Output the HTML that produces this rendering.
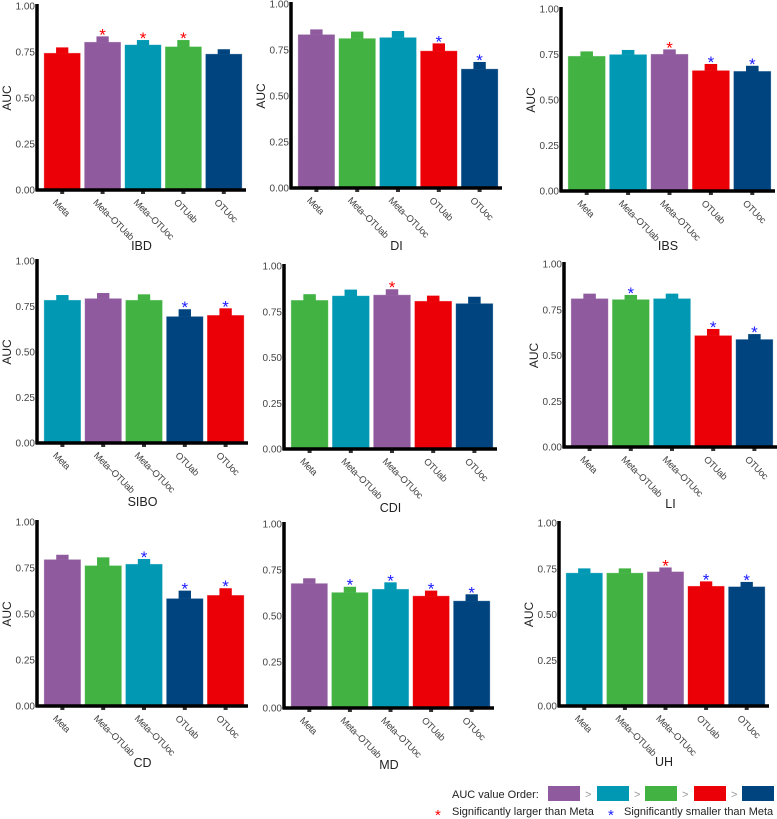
<!DOCTYPE html>
<html><head><meta charset="utf-8"><style>
body{margin:0;background:#fff;}
svg{display:block;font-family:"Liberation Sans",Arial,sans-serif;}
</style></head><body>
<svg id="chart" width="777" height="819" viewBox="0 0 777 819" xmlns="http://www.w3.org/2000/svg"></svg>
<script>
const categories = ["Meta","Meta\u2013OTUab","Meta\u2013OTUoc","OTUab","OTUoc"];
const panelNames = ["IBD","DI","IBS","SIBO","CDI","LI","CD","MD","UH"];
const aucValues = [
 [0.745,0.805,0.79,0.78,0.74],
 [0.835,0.814,0.819,0.746,0.648],
 [0.742,0.751,0.753,0.663,0.659],
 [0.786,0.795,0.786,0.696,0.703],
 [0.814,0.838,0.843,0.809,0.796],
 [0.812,0.807,0.812,0.61,0.589],
 [0.797,0.764,0.772,0.585,0.603],
 [0.678,0.629,0.647,0.61,0.583],
 [0.728,0.728,0.735,0.656,0.653]
];
const upperValues = [
 [0.775,0.835,0.815,0.815,0.765],
 [0.862,0.85,0.853,0.786,0.685],
 [0.767,0.775,0.778,0.698,0.688],
 [0.813,0.824,0.817,0.735,0.74],
 [0.846,0.871,0.873,0.838,0.832],
 [0.838,0.831,0.838,0.645,0.617],
 [0.822,0.808,0.799,0.627,0.64],
 [0.705,0.659,0.683,0.638,0.618],
 [0.752,0.752,0.757,0.681,0.678]
];
const colorRank = [
 ["r","p","t","g","n"],["p","g","t","r","n"],["g","t","p","r","n"],
 ["t","p","g","n","r"],["g","t","p","r","n"],["p","g","t","r","n"],
 ["p","g","t","n","r"],["p","g","t","r","n"],["t","g","p","r","n"]
];
const significance = [
 ["","+","+","+",""],["","","","-","-"],["","","+","-","-"],
 ["","","","-","-"],["","","+","",""],["","-","","-","-"],
 ["","","-","-","-"],["","-","-","-","-"],["","","+","-","-"]
];
const yTicks = [0,0.25,0.5,0.75,1];
const yTickLabels = ["0.00","0.25","0.50","0.75","1.00"];
const COL={p:"#8f5b9e",t:"#0098b3",g:"#42b342",r:"#ec0008",n:"#00447f"};
const layout=[
 [37,246,190,6,250,1],[291,502,188,4,250,1],[561,775,191,9,250,1],
 [37,248,443,261,506,1],[284,497,449,266,512,0],[564,777,447,264,508,1],
 [37,248,706,522,767,1],[284,494,708,524,769,0],[559,769,706,523,766,1]
];
const svg=document.getElementById('chart');
const NS="http://www.w3.org/2000/svg";
function mk(t,a,p){const e=document.createElementNS(NS,t);for(const k in a)e.setAttribute(k,a[k]);(p||svg).appendChild(e);return e;}
panelNames.forEach((name,pi)=>{
 const [ax,ex,y0,y1,ty,showAUC]=layout[pi];
 const g=mk('g',{});
 
 
 const yS=v=>y0-(y0-y1)*v;
 const pitch=(ex-ax-7)/5, bw=pitch*0.91;
 const bx=i=>ax+5+i*pitch+(pitch-bw)/2;
 categories.forEach((c,i)=>{
  const v=aucValues[pi][i], u=upperValues[pi][i], col=COL[colorRank[pi][i]];
  const x=bx(i);
  const b=mk('rect',{x:x,y:yS(v),width:bw,height:y0-yS(v),fill:col,stroke:"#fff",'stroke-opacity':0.5,'stroke-width':0.8},g);
  
  
  const cap=mk('rect',{x:x+bw/3,y:yS(u),width:bw/3,height:yS(v)-yS(u)+0.5,fill:col},g);
  
  
  const s=significance[pi][i];
  if(s){const st=mk('text',{x:x+bw/2,y:yS(u)+4,'text-anchor':'middle','font-size':17,fill:s=="+"?"#f00":"#1a1aff"},g);st.textContent="*";
   
   }
  const cx=x+bw/2;
  mk('rect',{x:cx-2,y:y0+1,width:4,height:3,fill:"#333"},g);
  const lb=mk('text',{x:0,y:0,transform:`translate(${cx-10},${y0+13}) rotate(45)`,'font-size':9.5,'letter-spacing':'-0.4',fill:"#444"},g);
  lb.textContent=c;
  
  
 });
 yTicks.forEach((t,k)=>{
  const tl=mk('text',{x:ax-2,y:yS(t)+3.5,'text-anchor':'end','font-size':10,fill:"#444"},g);
  tl.textContent=yTickLabels[k];
  
  
 });
 mk('line',{x1:ax,y1:y1-2,x2:ax,y2:y0+1.5,stroke:"#000",'stroke-width':3.5},g);
 mk('line',{x1:ax-1,y1:y0,x2:ex,y2:y0,stroke:"#000",'stroke-width':3.5},g);
 if(showAUC){const a=mk('text',{x:0,y:0,transform:`translate(${ax-26},${(y0+y1)/2}) rotate(-90)`,'text-anchor':'middle','font-size':12,fill:"#222"},g);a.textContent="AUC";
  
  }
 const tt=mk('text',{x:(ax+ex)/2,y:ty,'text-anchor':'middle','font-size':12.5,fill:"#222"},g);
 tt.textContent=name;
 
 
});
const lg=mk('g',{});


const lt=mk('text',{x:452,y:798,'font-size':11,fill:"#222"},lg);lt.textContent="AUC value Order:";
const swX=[548,597,645,694,742], swC=["p","t","g","r","n"];
swX.forEach((x,i)=>{
 const r=mk('rect',{x:x,y:786,width:32,height:15,fill:COL[swC[i]]},lg);
 
 
 if(i<4){const gt=mk('text',{x:x+37,y:798,'font-size':11,fill:"#999"},lg);gt.textContent=">";}
});
const s1=mk('text',{x:435,y:820,'font-size':15,fill:"#f00"},lg);s1.textContent="*";
const t1=mk('text',{x:452,y:815,'font-size':11,fill:"#222"},lg);t1.textContent="Significantly larger than Meta";
const s2=mk('text',{x:608,y:820,'font-size':15,fill:"#1a1aff"},lg);s2.textContent="*";
const t2=mk('text',{x:624,y:815,'font-size':11,fill:"#222"},lg);t2.textContent="Significantly smaller than Meta";
</script>
</body></html>
